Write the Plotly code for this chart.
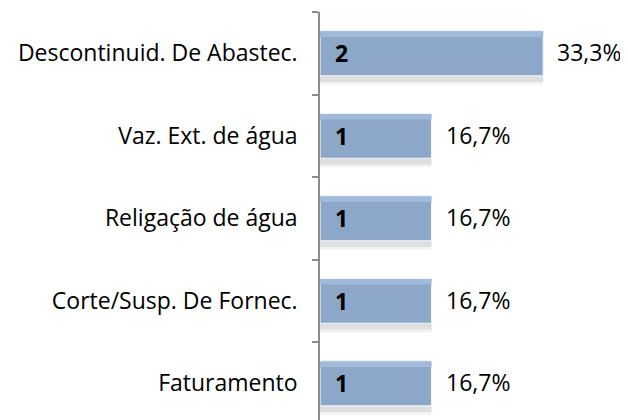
import plotly.graph_objects as go

categories = ["Faturamento", "Corte/Susp. De Fornec.", "Religação de água",
              "Vaz. Ext. de água", "Descontinuid. De Abastec."]
counts = [1, 1, 1, 1, 2]
percent_labels = ["16,7%", "16,7%", "16,7%", "16,7%", "33,3%"]

FONT = "Open Sans"
bar_w = 0.545

fig = go.Figure()
# soft shadow under bars (two layers to fake a blur)
for off, alpha in [(0.11, 0.05), (0.075, 0.08)]:
    fig.add_trace(go.Bar(
        y=categories, x=counts, orientation="h", width=bar_w, offset=-bar_w / 2 - off,
        marker=dict(color=f"rgba(0,0,0,{alpha})", line=dict(width=0)),
        hoverinfo="skip", showlegend=False,
    ))
fig.add_trace(go.Bar(
    y=categories, x=counts, orientation="h", width=bar_w, offset=-bar_w / 2,
    marker=dict(color="#8DA7C8", line=dict(color="#F2F5FA", width=1.2)),
    text=["  " + str(c) for c in counts], textposition="inside", insidetextanchor="start",
    textfont=dict(family=FONT, size=23, color="black", weight="bold"),
    showlegend=False,
))
# lighter top highlight
fig.add_trace(go.Bar(
    y=categories, x=counts, orientation="h", width=0.065, offset=bar_w / 2 - 0.075,
    marker=dict(color="#A2BAD9", line=dict(width=0)),
    hoverinfo="skip", showlegend=False,
))

annotations = [
    dict(x=c, y=cat, xref="x", yref="y", text=p, showarrow=False,
         xanchor="left", yanchor="middle", xshift=12, yshift=1,
         font=dict(family=FONT, size=23, color="black"))
    for cat, c, p in zip(categories, counts, percent_labels)
]

fig.update_layout(
    width=628, height=420,
    margin=dict(l=312, r=37, t=4, b=8, autoexpand=False),
    paper_bgcolor="white", plot_bgcolor="white",
    barmode="overlay",
    font=dict(family=FONT, size=23, color="black"),
    annotations=annotations,
    xaxis=dict(range=[0, 2.5], visible=False, fixedrange=True, automargin=False),
    yaxis=dict(
        type="category", categoryorder="array", categoryarray=categories,
        range=[-0.445, 4.5], showline=True, linecolor="#8C8C8C", linewidth=1.5,
        ticks="outside", tickson="boundaries", ticklen=6, tickcolor="#8C8C8C",
        tickwidth=1.5, ticklabelstandoff=16, showgrid=False, zeroline=False,
        automargin=False,
        tickfont=dict(family=FONT, size=23, color="black"),
    ),
)

fig.write_html("out.html")
